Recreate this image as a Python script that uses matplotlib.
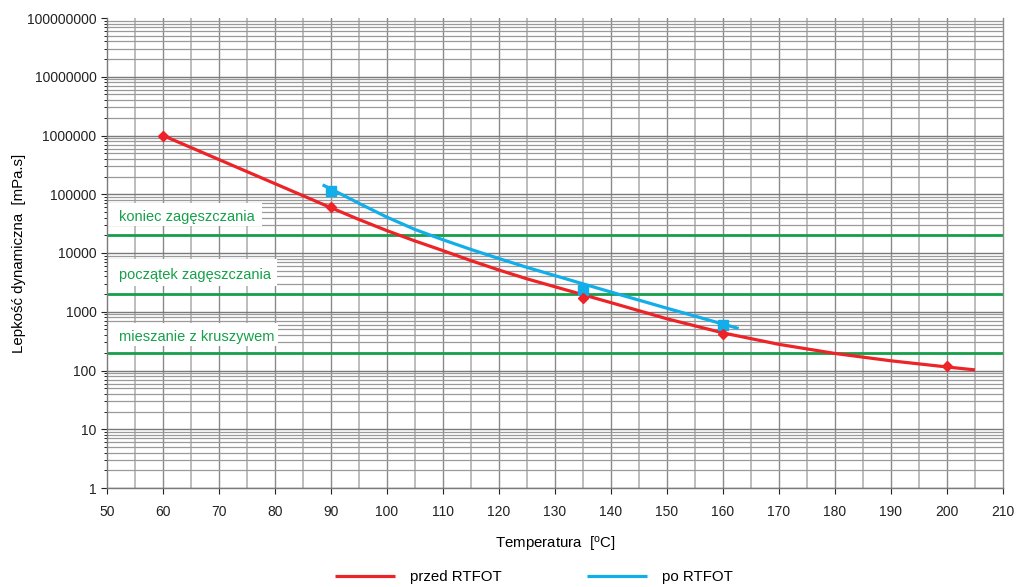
import numpy as np
import matplotlib
matplotlib.use("Agg")
import matplotlib.pyplot as plt
from matplotlib.ticker import FixedLocator, FuncFormatter, LogLocator, NullFormatter
from matplotlib.patches import Rectangle

plt.rcParams['font.family'] = ['Liberation Sans', 'DejaVu Sans']

# ---- data ----
red_mark_t = [60, 90, 135, 160, 200]
red_mark_v = [1000000, 60000, 1720, 420, 120]
blue_mark_t = [90, 135, 160]
blue_mark_v = [112000, 2350, 600]

# trend curves (log10 of viscosity)
red_curve_t = [60, 70, 80, 90, 95, 100, 105, 110, 115, 120, 125, 130, 135, 140,
               150, 160, 170, 180, 190, 200, 205]
red_curve_log = [6.0, 5.59, 5.18, 4.77, 4.57, 4.38, 4.205, 4.04, 3.87, 3.71, 3.56,
                 3.425, 3.29, 3.155, 2.88, 2.64, 2.445, 2.29, 2.165, 2.06, 2.01]
blue_curve_t = [88.5, 90, 95, 100, 105, 110, 115, 120, 125, 130, 140, 150, 160, 162.8]
blue_curve_log = [5.16, 5.09, 4.845, 4.61, 4.40, 4.225, 4.06, 3.905, 3.755, 3.615,
                  3.335, 3.06, 2.79, 2.715]

levels = [20000, 2000, 200]
level_labels = ["koniec zagęszczania", "początek zagęszczania", "mieszanie z kruszywem"]

x_ticks = list(range(50, 211, 10))
y_ticks = [1, 10, 100, 1000, 10000, 100000, 1000000, 10000000, 100000000]

RED = "#ED2327"
BLUE = "#12AEEA"
GREEN = "#16A04A"

fig = plt.figure(figsize=(10.17, 5.87), dpi=100)
ax = fig.add_axes([107/1017, 1-488/587, (1003-107)/1017, (488-18)/587])
ax.set_yscale('log')
ax.set_xlim(50, 210)
ax.set_ylim(1, 1e8)

# grid
for xv in np.arange(55, 210, 10):
    ax.axvline(xv, color="#b8b8b8", lw=1.3, zorder=0)
for xv in np.arange(60, 210, 10):
    ax.axvline(xv, color="#8a8a8a", lw=1.0, zorder=0)
for d in range(0, 8):
    for m in range(2, 10):
        ax.axhline(m * 10**d, color="#9a9a9a", lw=0.9, zorder=0)
    ax.axhline(10**d, color="#7a7a7a", lw=1.0, zorder=0)

# label boxes (white) and text
box_specs = [(4.46, 4.851, 77.6, 4.61), (3.44, 3.898, 80.4, 3.62), (2.42, 2.809, 80.6, 2.57)]
for (lo, hi, xr, yc), lab in zip(box_specs, level_labels):
    ax.add_patch(Rectangle((50.2, 10**lo), xr - 50.2, 10**hi - 10**lo,
                           facecolor="white", edgecolor="none", zorder=1))
    ax.text(52.1, 10**yc, lab, color=GREEN, fontsize=10.5, va='center', ha='left', zorder=2)

for lv in levels:
    ax.axhline(lv, color=GREEN, lw=2.0, zorder=2)

red_line, = ax.plot(red_curve_t, 10**np.array(red_curve_log), color=RED, lw=2.3, zorder=4,
                    solid_capstyle='butt', label="przed RTFOT")
blue_line, = ax.plot(blue_curve_t, 10**np.array(blue_curve_log), color=BLUE, lw=2.3, zorder=3,
                     solid_capstyle='butt', label="po RTFOT")
ax.plot(red_mark_t, red_mark_v, linestyle='none', marker='D', ms=5, color=RED, zorder=5)
ax.plot(blue_mark_t, blue_mark_v, linestyle='none', marker='s', ms=7, color=BLUE, zorder=4)

ax.xaxis.set_major_locator(FixedLocator(x_ticks))
ax.yaxis.set_major_locator(FixedLocator(y_ticks))
ax.yaxis.set_minor_locator(LogLocator(base=10, subs=np.arange(2, 10), numticks=100))
ax.yaxis.set_minor_formatter(NullFormatter())
ax.yaxis.set_major_formatter(FuncFormatter(lambda v, p: f"{int(round(v))}"))
ax.tick_params(axis='both', labelsize=10, colors="#222222", length=4, width=0.8)
ax.tick_params(axis='y', which='minor', length=2, width=0.6)
ax.tick_params(axis='x', pad=8)
for sp in ax.spines.values():
    sp.set_color("#7a7a7a")
    sp.set_linewidth(1.0)
ax.spines['top'].set_visible(False)
ax.spines['right'].set_color("#8a8a8a")

ax.set_xlabel("Temperatura  [$\\mathregular{^o}$C]", fontsize=10.8, labelpad=12)
ax.set_ylabel("Lepkość dynamiczna  [mPa.s]", fontsize=10.8)
ax.yaxis.set_label_coords((26 - 107) / 896, 0.5)

fig.legend(handles=[red_line, blue_line], loc='center', bbox_to_anchor=(534/1017, 1-577/587),
           ncol=2, frameon=False, fontsize=10.8, handlelength=4.0, columnspacing=5.7,
           handletextpad=1.0)

fig.savefig("out.png", dpi=100)
